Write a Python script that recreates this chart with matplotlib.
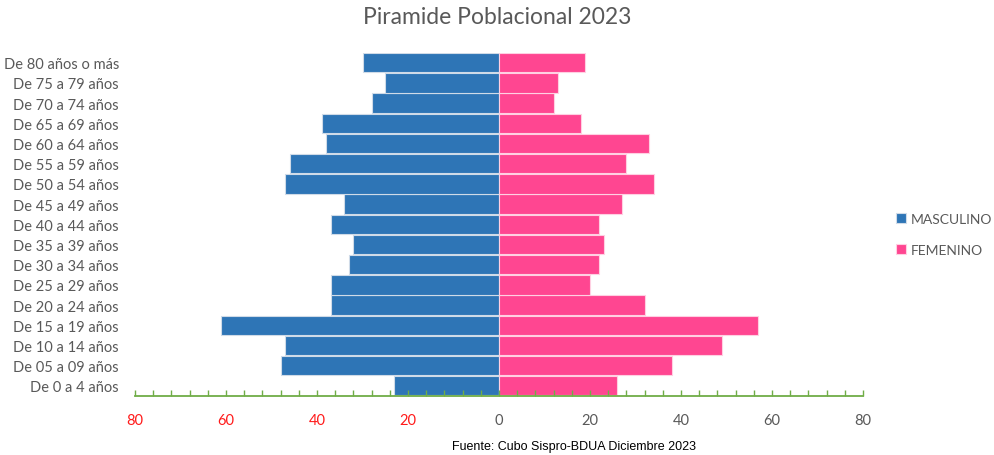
import matplotlib
matplotlib.use("Agg")
import matplotlib.pyplot as plt
import numpy as np
from matplotlib.ticker import MultipleLocator, FixedLocator

age_groups = ["De 0 a 4 años", "De 05 a 09 años", "De 10 a 14 años", "De 15 a 19 años",
              "De 20 a 24 años", "De 25 a 29 años", "De 30 a 34 años", "De 35 a 39 años",
              "De 40 a 44 años", "De 45 a 49 años", "De 50 a 54 años", "De 55 a 59 años",
              "De 60 a 64 años", "De 65 a 69 años", "De 70 a 74 años", "De 75 a 79 años",
              "De 80 años o más"]
masculino = [23, 48, 47, 61, 37, 37, 33, 32, 37, 34, 47, 46, 38, 39, 28, 25, 30]
femenino = [26, 38, 49, 57, 32, 20, 22, 23, 22, 27, 34, 28, 33, 18, 12, 13, 19]
x_ticks = [-80, -60, -40, -20, 0, 20, 40, 60, 80]
x_tick_labels = ["80", "60", "40", "20", "0", "20", "40", "60", "80"]

plt.rcParams['font.family'] = ['Lato', 'DejaVu Sans']
gray = "#595959"
blue = "#2E75B6"
pink = "#FF4691"

fig = plt.figure(figsize=(9.95, 4.56), dpi=100)
ax = fig.add_axes([135/995, 1 - 397.3/456, (863-135)/995, (397.3-53.7)/456])

y = np.arange(len(age_groups))
ax.barh(y, -np.array(masculino), height=0.96, color=blue, edgecolor="#d0dbe8", linewidth=0.8, label="MASCULINO")
ax.barh(y, femenino, height=0.96, color=pink, edgecolor="#ffd0e2", linewidth=0.8, label="FEMENINO")

ax.set_xlim(-80, 80)
ax.set_ylim(-0.52, 16.5)

for s in ["top", "right", "left"]:
    ax.spines[s].set_visible(False)
ax.spines["bottom"].set_color("#70AD47")
ax.spines["bottom"].set_linewidth(1.3)

ax.xaxis.set_major_locator(FixedLocator(x_ticks))
ax.set_xticklabels(x_tick_labels)
ax.xaxis.set_minor_locator(MultipleLocator(4))
ax.tick_params(axis="x", which="both", direction="in", length=4, color="#70AD47",
               width=1, pad=12, labelsize=10.5)
for lbl, v in zip(ax.get_xticklabels(), x_ticks):
    lbl.set_color("#FF1A1A" if v < 0 else gray)

ax.set_yticks(y)
ax.set_yticklabels(age_groups)
ax.tick_params(axis="y", length=0, pad=11.5, labelsize=10.5, labelcolor=gray)

fig.text(0.5, 1 - 17/456, "Piramide Poblacional 2023", ha="center", va="center",
         fontsize=16.5, color=gray)
fig.text(574/995, 1 - 447/456, "Fuente: Cubo Sispro-BDUA Diciembre 2023", ha="center",
         va="center", fontsize=9, color="#000000", family=["Liberation Sans Narrow", "Liberation Sans"])

leg = fig.legend(loc="upper left", bbox_to_anchor=(896/995, 1 - 214/456), frameon=False,
                 fontsize=10, labelcolor=gray, handlelength=0.7, handleheight=0.7,
                 handletextpad=0.35, labelspacing=1.35, borderaxespad=0, borderpad=0)

fig.savefig("out.png", dpi=100, facecolor="white")
